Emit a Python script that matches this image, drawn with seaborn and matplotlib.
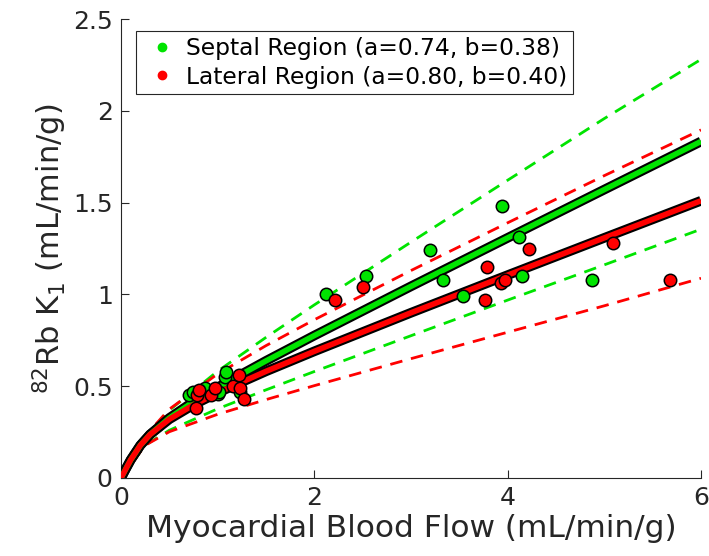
import matplotlib
matplotlib.use('Agg')
import matplotlib.pyplot as plt
from matplotlib.lines import Line2D
import seaborn as sns

# measured points, septal region
septal_mbf = [0.70, 0.74, 0.87, 1.00, 1.01, 1.08, 1.09, 1.23,
              2.12, 2.53, 3.20, 3.33, 3.54, 3.94, 4.12, 4.15, 4.87]
septal_k1 = [0.45, 0.47, 0.49, 0.46, 0.47, 0.55, 0.58, 0.47,
             1.00, 1.10, 1.24, 1.08, 0.99, 1.48, 1.31, 1.10, 1.08]

# measured points, lateral region
lateral_mbf = [0.78, 0.79, 0.81, 0.93, 0.97, 1.16, 1.22, 1.23, 1.27,
               2.21, 2.50, 3.77, 3.79, 3.93, 3.97, 4.22, 5.09, 5.68]
lateral_k1 = [0.38, 0.45, 0.48, 0.45, 0.49, 0.50, 0.56, 0.49, 0.43,
              0.97, 1.04, 0.97, 1.15, 1.06, 1.08, 1.25, 1.28, 1.08]

# fitted curves
fit_mbf = [0, 0.05, 0.1, 0.2, 0.3, 0.5, 0.75, 1, 1.5, 2, 3, 4, 5, 6]
septal_fit = [0, 0.05, 0.098, 0.178, 0.237, 0.327, 0.416, 0.494, 0.638, 0.776, 1.044, 1.308, 1.571, 1.833]
lateral_fit = [0, 0.05, 0.099, 0.178, 0.237, 0.320, 0.398, 0.464, 0.581, 0.690, 0.900, 1.105, 1.308, 1.510]

# dashed bounds
bound_mbf = [0, 0.25, 0.5, 1, 1.5, 2, 3, 4, 5, 6]
septal_upper = [0, 0.224, 0.369, 0.582, 0.766, 0.943, 1.285, 1.622, 1.958, 2.28]
septal_lower = [0, 0.179, 0.260, 0.377, 0.480, 0.580, 0.775, 0.969, 1.161, 1.355]
lateral_upper = [0, 0.229, 0.375, 0.567, 0.721, 0.862, 1.130, 1.390, 1.647, 1.896]
lateral_lower = [0, 0.178, 0.252, 0.347, 0.427, 0.503, 0.650, 0.794, 0.938, 1.088]

labels = ['Septal Region (a=0.74, b=0.38)', 'Lateral Region (a=0.80, b=0.40)']
green = '#00e400'
red = '#ff0000'
dark = '#262626'

sns.set_style('white')
plt.rcParams['font.family'] = ['DejaVu Sans']

fig = plt.figure(figsize=(7.09, 5.56), dpi=100)
ax = fig.add_axes([0.1707, 0.1403, 0.818, 0.8255])

# dashed bounds
for ys, c in [(septal_upper, green), (septal_lower, green),
              (lateral_upper, red), (lateral_lower, red)]:
    sns.lineplot(x=bound_mbf, y=ys, ax=ax, color=c, lw=2, estimator=None, sort=False,
                 zorder=2)
    ax.lines[-1].set_linestyle((0, (4.5, 3.2)))

# fitted curves with black outline
for ys, c in [(septal_fit, green), (lateral_fit, red)]:
    sns.lineplot(x=fit_mbf, y=ys, ax=ax, color='black', lw=7, estimator=None, sort=False,
                 zorder=3)
    ax.lines[-1].set_solid_capstyle('butt')
    sns.lineplot(x=fit_mbf, y=ys, ax=ax, color=c, lw=4, estimator=None, sort=False,
                 zorder=4)
    ax.lines[-1].set_solid_capstyle('butt')

sns.scatterplot(x=septal_mbf, y=septal_k1, ax=ax, color=green, s=80,
                edgecolor='black', linewidth=1.1, zorder=5)
sns.scatterplot(x=lateral_mbf, y=lateral_k1, ax=ax, color=red, s=80,
                edgecolor='black', linewidth=1.1, zorder=6)

ax.set_xlim(0, 6)
ax.set_ylim(0, 2.5)
ax.set_xticks([0, 2, 4, 6])
ax.set_yticks([0, 0.5, 1, 1.5, 2, 2.5])
ax.set_yticklabels(['0', '0.5', '1', '1.5', '2', '2.5'])
ax.tick_params(direction='in', length=6, width=0.8, colors=dark, labelsize=18,
               left=True, bottom=True, pad=6)
for side in ['top', 'right']:
    ax.spines[side].set_visible(False)
for side in ['left', 'bottom']:
    ax.spines[side].set_color(dark)
    ax.spines[side].set_linewidth(0.8)

ax.set_xlabel('Myocardial Blood Flow (mL/min/g)', fontsize=22.5, color=dark, labelpad=3)
ax.set_ylabel('$^{82}$Rb K$_1$ (mL/min/g)', fontsize=22, color=dark, labelpad=3)

handles = [Line2D([], [], ls='none', marker='o', ms=6, color=green, mec=green),
           Line2D([], [], ls='none', marker='o', ms=6, color=red, mec=red)]
leg = ax.legend(handles, labels, loc='upper left', bbox_to_anchor=(0.026, 0.974),
                borderaxespad=0, fontsize=16.8, frameon=True, fancybox=False,
                framealpha=1, edgecolor=dark, handletextpad=0.2, borderpad=0.25,
                labelspacing=0.25, handlelength=1.7)
leg.get_frame().set_linewidth(0.8)
for t in leg.get_texts():
    t.set_color('black')

fig.savefig('out.png', dpi=100)
